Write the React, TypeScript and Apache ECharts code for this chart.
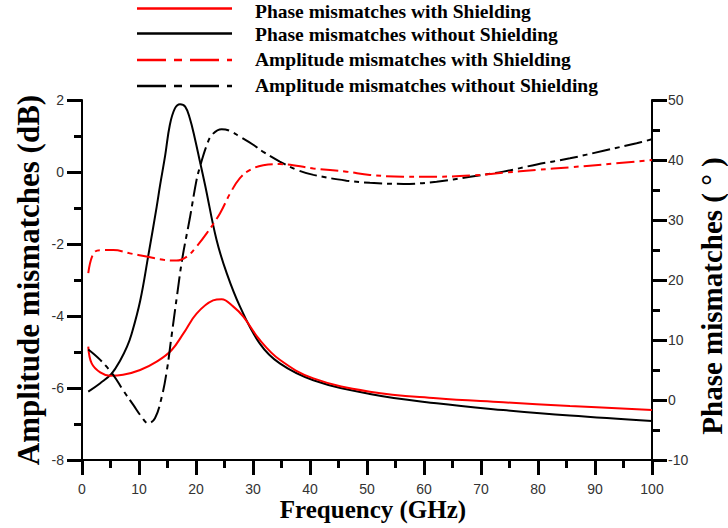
import React, { useEffect, useRef } from "react";
import * as echarts from "echarts";

// Phase mismatch (degrees, right axis), without shielding
const phaseWithoutFreq = [1.1, 3.2, 5.2, 6.7, 7.9, 8.7, 10.2, 11.6, 13.1, 13.7, 14.6, 15.4, 16.3, 17.2, 18.1, 18.9, 19.8, 20.7, 21.6, 23.6, 25.4, 27.7, 31.2, 34.7, 40.6, 50.5, 62.2, 73.9, 85.6, 100];
const phaseWithoutVals = [1.4, 2.8, 4.4, 6.6, 8.9, 11.0, 16.5, 23.9, 32.2, 35.8, 40.8, 45.8, 48.6, 49.3, 48.9, 47.0, 43.6, 39.7, 35.8, 26.7, 21.1, 15.6, 9.4, 6.1, 3.3, 1.0, -0.55, -1.67, -2.6, -3.5];

// Phase mismatch (degrees, right axis), with shielding
const phaseWithFreq = [1.1, 1.7, 3.2, 4.9, 7.2, 10.2, 13.1, 15.7, 17.8, 20.1, 23.0, 24.5, 26.5, 28.3, 31.2, 34.7, 40.6, 50.5, 62.2, 73.9, 85.6, 100];
const phaseWithVals = [8.9, 6.1, 4.6, 4.05, 4.2, 5.0, 6.4, 8.3, 11.1, 14.4, 16.6, 16.8, 15.6, 13.9, 10.0, 6.7, 3.6, 1.38, 0.28, -0.38, -1.0, -1.67];

// Amplitude mismatch (dB, left axis), with shielding
const ampWithFreq = [1.1, 2.0, 3.2, 5.5, 8.4, 11.3, 14.3, 16.6, 18.4, 20.1, 21.9, 24.2, 26.0, 27.7, 29.5, 31.8, 34.7, 40.6, 46.4, 50.5, 56.4, 62.2, 68.1, 73.9, 79.8, 85.6, 91.5, 100];
const ampWithVals = [-2.81, -2.26, -2.17, -2.17, -2.26, -2.35, -2.44, -2.46, -2.35, -2.07, -1.7, -1.15, -0.59, -0.17, 0.06, 0.19, 0.22, 0.1, 0.01, -0.08, -0.13, -0.13, -0.1, -0.02, 0.06, 0.13, 0.21, 0.33];

// Amplitude mismatch (dB, left axis), without shielding
const ampWithoutFreq = [1.1, 3.2, 5.5, 7.2, 9.0, 10.5, 11.6, 12.8, 14.0, 14.9, 15.7, 16.7, 17.6, 18.9, 20.1, 20.7, 21.9, 22.8, 24.5, 26.0, 27.7, 30.1, 31.8, 34.7, 37.7, 40.6, 46.4, 50.5, 56.4, 62.2, 68.1, 73.9, 79.8, 85.6, 91.5, 97.3, 100];
const ampWithoutVals = [-4.93, -5.22, -5.64, -6.06, -6.47, -6.81, -6.98, -6.84, -6.24, -5.5, -4.57, -3.4, -2.4, -1.3, -0.22, 0.15, 0.75, 1.03, 1.19, 1.14, 0.98, 0.75, 0.56, 0.29, 0.06, -0.08, -0.24, -0.3, -0.33, -0.27, -0.13, 0.01, 0.21, 0.38, 0.59, 0.8, 0.91];

// Axis ranges and tick positions
const FREQ_MIN = 0;
const FREQ_MAX = 100;
const AMP_MIN = -8;
const AMP_MAX = 2;
const PHASE_MIN = -10;
const PHASE_MAX = 50;
const freqMajorTicks = [0, 10, 20, 30, 40, 50, 60, 70, 80, 90, 100];
const freqMinorTicks = [5, 15, 25, 35, 45, 55, 65, 75, 85, 95];
const ampMajorTicks = [-8, -6, -4, -2, 0, 2];
const ampMinorTicks = [-7, -5, -3, -1, 1];
const phaseMajorTicks = [-10, 0, 10, 20, 30, 40, 50];
const phaseMinorTicks = [-5, 5, 15, 25, 35, 45];

const legendLabels = [
  "Phase mismatches with Shielding",
  "Phase mismatches without Shielding",
  "Amplitude mismatches with Shielding",
  "Amplitude mismatches without Shielding",
];

const RED = "#ff0000";
const BLACK = "#000";
const PLOT_DASH = [18, 5, 5, 5];
const LEGEND_DASH = [29, 8, 8, 8];
const SERIF = '"Liberation Serif", "Times New Roman", serif';
const SANS = '"Liberation Sans", Arial, sans-serif';
const MAJOR_LEN = 15;
const MINOR_LEN = 8;
const TICK_WIDTH = 3;

const zip = (xs: number[], ys: number[]) => xs.map((x, i) => [x, ys[i]]);

function axisParts(labelMargin: number, isX: boolean) {
  return {
    axisLine: isX
      ? { show: true, onZero: false, lineStyle: { color: BLACK, width: 2 } }
      : { show: true, lineStyle: { color: BLACK, width: 2 } },
    axisTick: { show: true, length: MAJOR_LEN, lineStyle: { color: BLACK, width: TICK_WIDTH } },
    minorTick: { show: true, splitNumber: 2, length: MINOR_LEN, lineStyle: { color: BLACK, width: TICK_WIDTH } },
    splitLine: { show: false },
    minorSplitLine: { show: false },
    axisLabel: {
      show: true,
      margin: labelMargin,
      fontFamily: SANS,
      fontSize: 14,
      color: "#333",
    },
  };
}

function buildStaticGraphics() {
  const legendStyles = [
    { stroke: RED, dash: null },
    { stroke: BLACK, dash: null },
    { stroke: RED, dash: LEGEND_DASH },
    { stroke: BLACK, dash: LEGEND_DASH },
  ];
  const lineRows = [8.5, 33.5, 60, 86];
  const textRows = [11, 34.5, 59.5, 85.5];

  const items: any[] = [];
  legendLabels.forEach((label, i) => {
    items.push({
      id: `legend-line-${i}`,
      type: "line",
      shape: { x1: 137, y1: lineRows[i], x2: 232, y2: lineRows[i] },
      style: {
        stroke: legendStyles[i].stroke,
        lineWidth: 2.5,
        lineDash: legendStyles[i].dash || undefined,
      },
    });
    items.push({
      id: `legend-text-${i}`,
      type: "text",
      x: 255,
      y: textRows[i],
      style: {
        text: label,
        fontFamily: SERIF,
        fontWeight: "bold",
        fontSize: 19.5,
        fill: BLACK,
        align: "left",
        verticalAlign: "middle",
      },
    });
  });

  items.push(
    {
      id: "title-amp",
      type: "text",
      x: 28,
      y: 280,
      rotation: Math.PI / 2,
      style: {
        text: "Amplitude mismatches (dB)",
        fontFamily: SERIF,
        fontWeight: "bold",
        fontSize: 31,
        fill: BLACK,
        align: "center",
        verticalAlign: "middle",
      },
    },
    {
      id: "title-phase",
      type: "text",
      x: 712,
      y: 296,
      rotation: Math.PI / 2,
      style: {
        text: "Phase mismatches ( \u00b0 )",
        fontFamily: SERIF,
        fontWeight: "bold",
        fontSize: 29,
        fill: BLACK,
        align: "center",
        verticalAlign: "middle",
      },
    },
    {
      id: "title-freq",
      type: "text",
      x: 373,
      y: 509,
      style: {
        text: "Frequency (GHz)",
        fontFamily: SERIF,
        fontWeight: "bold",
        fontSize: 25,
        fill: BLACK,
        align: "center",
        verticalAlign: "middle",
      },
    }
  );
  return items;
}

// Outward tick marks as filled bars, positioned through the chart's own axis scales
function buildTickGraphics(chart: echarts.ECharts) {
  const xPx = (v: number) => chart.convertToPixel({ xAxisIndex: 0 }, v) as number;
  const ampPx = (v: number) => chart.convertToPixel({ yAxisIndex: 0 }, v) as number;
  const phasePx = (v: number) => chart.convertToPixel({ yAxisIndex: 1 }, v) as number;
  const bottom = ampPx(AMP_MIN);
  const left = xPx(FREQ_MIN);
  const right = xPx(FREQ_MAX);
  const half = 1;
  const style = { fill: BLACK };
  const items: any[] = [];

  const addX = (vals: number[], len: number, tag: string) =>
    vals.forEach((v, i) => {
      const x = xPx(v);
      items.push({ id: `tx-${tag}-${i}`, type: "rect", z: 100, silent: true, shape: { x: x - half, y: bottom, width: 2 * half, height: len }, style });
    });
  const addLeft = (vals: number[], len: number, tag: string) =>
    vals.forEach((v, i) => {
      const y = ampPx(v);
      items.push({ id: `tl-${tag}-${i}`, type: "rect", z: 100, silent: true, shape: { x: left - len, y: y - half, width: len, height: 2 * half }, style });
    });
  const addRight = (vals: number[], len: number, tag: string) =>
    vals.forEach((v, i) => {
      const y = phasePx(v);
      items.push({ id: `tr-${tag}-${i}`, type: "rect", z: 100, silent: true, shape: { x: right, y: y - half, width: len, height: 2 * half }, style });
    });

  addX(freqMajorTicks, MAJOR_LEN, "M");
  addX(freqMinorTicks, MINOR_LEN, "m");
  addLeft(ampMajorTicks, MAJOR_LEN, "M");
  addLeft(ampMinorTicks, MINOR_LEN, "m");
  addRight(phaseMajorTicks, MAJOR_LEN, "M");
  addRight(phaseMinorTicks, MINOR_LEN, "m");
  return items;
}

function buildOption() {
  return {
    animation: false,
    backgroundColor: "#ffffff",
    grid: { left: 82, right: 76, top: 100, bottom: 68 },
    xAxis: {
      type: "value",
      min: FREQ_MIN,
      max: FREQ_MAX,
      interval: 10,
      ...axisParts(22, true),
    },
    yAxis: [
      {
        type: "value",
        position: "left",
        min: AMP_MIN,
        max: AMP_MAX,
        interval: 2,
        ...axisParts(18, false),
      },
      {
        type: "value",
        position: "right",
        min: PHASE_MIN,
        max: PHASE_MAX,
        interval: 10,
        ...axisParts(16, false),
      },
    ],
    series: [
      {
        name: legendLabels[1],
        type: "line",
        yAxisIndex: 1,
        data: zip(phaseWithoutFreq, phaseWithoutVals),
        symbol: "none",
        smooth: 0.4,
        lineStyle: { color: BLACK, width: 2 },
      },
      {
        name: legendLabels[0],
        type: "line",
        yAxisIndex: 1,
        data: zip(phaseWithFreq, phaseWithVals),
        symbol: "none",
        smooth: 0.4,
        lineStyle: { color: RED, width: 2 },
      },
      {
        name: legendLabels[3],
        type: "line",
        yAxisIndex: 0,
        data: zip(ampWithoutFreq, ampWithoutVals),
        symbol: "none",
        smooth: 0.4,
        lineStyle: { color: BLACK, width: 2, type: PLOT_DASH },
      },
      {
        name: legendLabels[2],
        type: "line",
        yAxisIndex: 0,
        data: zip(ampWithFreq, ampWithVals),
        symbol: "none",
        smooth: 0.4,
        lineStyle: { color: RED, width: 2, type: PLOT_DASH },
      },
    ],
    graphic: buildStaticGraphics(),
  };
}

export default function App() {
  const ref = useRef<HTMLDivElement>(null);
  useEffect(() => {
    if (!ref.current) return;
    const chart = echarts.init(ref.current, null, { renderer: "svg" });
    chart.setOption(buildOption() as any);
    chart.setOption({
      graphic: [...buildStaticGraphics(), ...buildTickGraphics(chart)],
    } as any);
    return () => chart.dispose();
  }, []);
  return (
    <div
      ref={ref}
      style={{ position: "fixed", left: 0, top: 0, width: 728, height: 528 }}
    />
  );
}
